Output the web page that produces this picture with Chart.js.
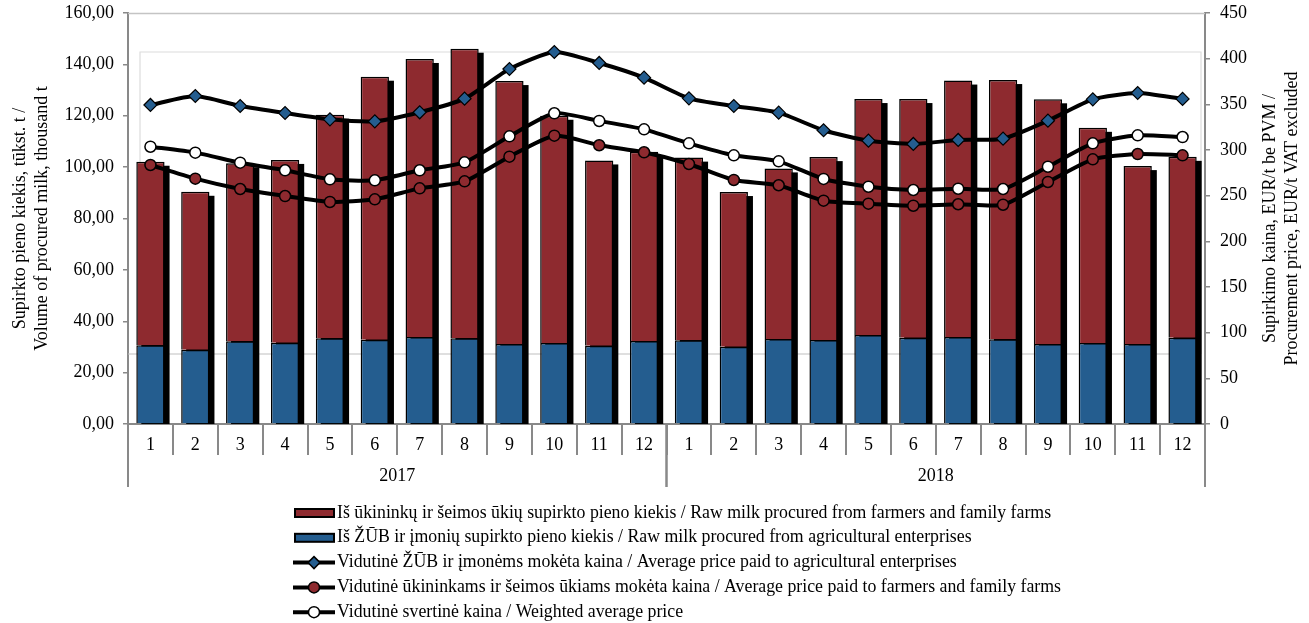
<!DOCTYPE html>
<html>
<head>
<meta charset="utf-8">
<script src="https://cdn.jsdelivr.net/npm/chart.js@4.4.1/dist/chart.umd.min.js"></script>
<style>
  html, body { margin: 0; padding: 0; background: #ffffff; }
  #wrap { position: relative; width: 1309px; height: 623px; }
</style>
</head>
<body>
<div id="wrap"><canvas id="c"></canvas></div>
<script>
// ---- data ----
const months = ['1','2','3','4','5','6','7','8','9','10','11','12','1','2','3','4','5','6','7','8','9','10','11','12'];
const years = ['2017','2018'];
const volEnterprises = [30.7,28.9,32.2,31.6,33.4,32.8,33.9,33.4,31.1,31.5,30.5,32.3, 32.6,30.1,33.1,32.7,34.6,33.6,33.9,33.0,31.1,31.5,31.1,33.6];
const volFarmers = [71.4,61.5,69.3,71.2,87.0,102.4,108.2,112.7,102.4,88.5,72.1,73.7, 71.1,60.2,66.4,71.2,91.9,92.9,99.8,100.9,95.3,83.8,69.3,70.4];
const priceEnterprises = [349.3,359.1,348.2,340.5,333.6,331.4,341.3,356.2,388.7,407.3,395.3,379.2, 356.6,348.2,340.9,321.6,310.2,306.6,311.0,312.4,332.1,355.5,362.4,355.9];
const priceFarmers = [283.6,268.6,257.3,249.6,243.1,246.0,258.0,265.7,292.7,315.7,305.2,297.5, 284.7,267.2,261.4,244.5,241.2,239.0,240.6,240.1,265.0,289.8,295.6,294.2];
const priceWeighted = [303.6,297.1,286.1,277.8,267.9,266.8,277.8,286.5,315.0,340.2,331.8,322.6, 307.3,294.2,287.6,268.3,259.8,256.2,257.6,257.3,281.7,307.3,316.1,314.2];

const labelFarmersVol = 'Iš ūkininkų ir šeimos ūkių supirkto pieno kiekis / Raw milk procured from farmers and family farms';
const labelEntVol = 'Iš ŽŪB ir įmonių supirkto pieno kiekis / Raw milk procured from agricultural enterprises';
const labelEntPrice = 'Vidutinė ŽŪB ir įmonėms mokėta kaina / Average price paid to agricultural enterprises';
const labelFarmPrice = 'Vidutinė ūkininkams ir šeimos ūkiams mokėta kaina / Average price paid to farmers and family farms';
const labelWeighted = 'Vidutinė svertinė kaina / Weighted average price';
const leftTitle = ['Supirkto pieno kiekis, tūkst. t /', 'Volume of procured milk, thousand t'];
const rightTitle = ['Supirkimo kaina, EUR/t be PVM /', 'Procurement price, EUR/t VAT excluded'];

const RED = '#8e2a2f';
const BLUE = '#245d8f';
const GRAY = '#898989';
const FONT = "'Liberation Serif', 'Times New Roman', serif";
const FS = 18;

const decor = {
  id: 'decor',
  beforeDatasetsDraw(chart) {
    const {ctx, chartArea: a} = chart;
    ctx.save();
    // top border of plot
    ctx.strokeStyle = '#c4c4c4';
    ctx.lineWidth = 1.5;
    ctx.beginPath(); ctx.moveTo(a.left, a.top + 0.5); ctx.lineTo(a.right, a.top + 0.5); ctx.stroke();
    // 3D back wall
    ctx.strokeStyle = '#dcdcdc';
    ctx.lineWidth = 1.2;
    const wl = a.left + 12, wr = a.right - 4, wt = a.top + 39, wb = a.bottom - 70;
    ctx.beginPath();
    ctx.moveTo(wl, wb); ctx.lineTo(wl, wt); ctx.lineTo(wr, wt); ctx.lineTo(wr, wb);
    ctx.stroke();
    ctx.strokeStyle = '#c0c0c0';
    ctx.beginPath(); ctx.moveTo(a.left, wb); ctx.lineTo(wr, wb); ctx.stroke();
    // bar shadows
    ctx.beginPath(); ctx.rect(a.left, a.top, a.right - a.left, a.bottom - a.top); ctx.clip();
    const mb = chart.getDatasetMeta(0), mr = chart.getDatasetMeta(1);
    ctx.fillStyle = '#000';
    mb.data.forEach((b, i) => {
      const r = mr.data[i];
      const top = Math.min(b.y, r.y);
      const w = b.width;
      ctx.fillRect(b.x - w / 2 + 5, top + 4, w, b.base - top);
    });
    ctx.restore();
  },
  afterDraw(chart) {
    const {ctx, chartArea: a, scales} = chart;
    const xs = scales.x;
    ctx.save();
    // year groups
    const half = (xs.getPixelForValue(1) - xs.getPixelForValue(0)) / 2;
    ctx.strokeStyle = GRAY;
    ctx.lineWidth = 2;
    ctx.fillStyle = '#000';
    ctx.font = FS + 'px ' + FONT;
    ctx.textAlign = 'center';
    ctx.textBaseline = 'middle';
    years.forEach((yr, g) => {
      const l = xs.getPixelForValue(g * 12) - half;
      const r = xs.getPixelForValue(g * 12 + 11) + half;
      ctx.beginPath();
      ctx.moveTo(l, a.bottom); ctx.lineTo(l, a.bottom + 63);
      ctx.moveTo(r, a.bottom); ctx.lineTo(r, a.bottom + 63);
      ctx.stroke();
      ctx.fillText(yr, (l + r) / 2, a.bottom + 52);
    });
    // right title (reads bottom-to-top)
    const cy = (a.top + a.bottom) / 2;
    [chart.width - 39, chart.width - 17].forEach((x, i) => {
      ctx.save();
      ctx.translate(x, cy);
      ctx.rotate(-Math.PI / 2);
      ctx.fillText(rightTitle[i], 0, 0);
      ctx.restore();
    });
    // legend
    const items = [
      {type: 'bar', color: RED, text: labelFarmersVol},
      {type: 'bar', color: BLUE, text: labelEntVol},
      {type: 'line', marker: 'diamond', color: BLUE, text: labelEntPrice},
      {type: 'line', marker: 'circle', color: RED, text: labelFarmPrice},
      {type: 'line', marker: 'circle', color: '#ffffff', text: labelWeighted}
    ];
    const lx = 294, ly0 = a.bottom + 89, step = 24.8;
    ctx.textAlign = 'left';
    ctx.font = '17.8px ' + FONT;
    items.forEach((it, i) => {
      const y = ly0 + i * step;
      if (it.type === 'bar') {
        ctx.fillStyle = '#000';
        ctx.fillRect(lx, y - 5, 41, 10);
        ctx.fillStyle = it.color;
        ctx.fillRect(lx + 2, y - 3, 37, 6);
      } else {
        ctx.strokeStyle = '#000';
        ctx.lineWidth = 4;
        ctx.beginPath(); ctx.moveTo(lx - 1, y); ctx.lineTo(lx + 41, y); ctx.stroke();
        ctx.fillStyle = it.color;
        ctx.lineWidth = 1.5;
        ctx.beginPath();
        const cx = lx + 20;
        if (it.marker === 'diamond') {
          ctx.moveTo(cx, y - 6); ctx.lineTo(cx + 6, y); ctx.lineTo(cx, y + 6); ctx.lineTo(cx - 6, y); ctx.closePath();
        } else {
          ctx.arc(cx, y, 5.5, 0, Math.PI * 2);
        }
        ctx.fill(); ctx.stroke();
      }
      ctx.fillStyle = '#000';
      ctx.fillText(it.text, lx + 43, y);
    });
    ctx.restore();
  }
};

function noPad(s) { s.paddingTop = 0; s.paddingBottom = 0; }

new Chart(document.getElementById('c'), {
  data: {
    labels: months,
    datasets: [
      {type: 'bar', label: labelEntVol, data: volEnterprises, yAxisID: 'y', order: 1,
       backgroundColor: BLUE, borderColor: '#000', borderWidth: 1.5,
       barPercentage: 0.63, categoryPercentage: 1},
      {type: 'bar', label: labelFarmersVol, data: volFarmers, yAxisID: 'y', order: 2,
       backgroundColor: RED, borderColor: '#000', borderWidth: 1.5,
       barPercentage: 0.63, categoryPercentage: 1},
      {type: 'line', label: labelEntPrice, data: priceEnterprises, yAxisID: 'y1', order: 0,
       borderColor: '#000', borderWidth: 4, tension: 0.2, pointStyle: 'rectRot', pointRadius: 6.5,
       pointBackgroundColor: BLUE, pointBorderColor: '#000', pointBorderWidth: 1.2},
      {type: 'line', label: labelFarmPrice, data: priceFarmers, yAxisID: 'y1', order: 0,
       borderColor: '#000', borderWidth: 4, tension: 0.2, pointStyle: 'circle', pointRadius: 5.5,
       pointBackgroundColor: RED, pointBorderColor: '#000', pointBorderWidth: 1.5},
      {type: 'line', label: labelWeighted, data: priceWeighted, yAxisID: 'y1', order: 0,
       borderColor: '#000', borderWidth: 4, tension: 0.2, pointStyle: 'circle', pointRadius: 5.5,
       pointBackgroundColor: '#ffffff', pointBorderColor: '#000', pointBorderWidth: 1.5}
    ]
  },
  options: {
    responsive: true,
    maintainAspectRatio: false,
    animation: false,
    layout: {padding: {top: 13, left: 0, right: 0, bottom: 0}},
    plugins: {legend: {display: false}, tooltip: {enabled: false}},
    scales: {
      x: {
        type: 'category', stacked: true,
        grid: {offset: true, drawOnChartArea: false, drawTicks: true, tickLength: 31, color: GRAY, lineWidth: 2},
        border: {display: true, color: GRAY, width: 2},
        ticks: {font: {family: FONT, size: FS}, color: '#000', padding: -21, maxRotation: 0, autoSkip: false},
        afterFit(s) { s.height = 199; s.paddingLeft = 0; s.paddingRight = 0; }
      },
      y: {
        position: 'left', stacked: true, min: 0, max: 160,
        ticks: {stepSize: 20, font: {family: FONT, size: FS}, color: '#000', padding: 9,
                callback: v => v.toFixed(2).replace('.', ',')},
        grid: {drawOnChartArea: false, tickLength: 5, color: GRAY, lineWidth: 1.5},
        border: {display: true, color: GRAY, width: 2},
        title: {display: true, text: leftTitle, font: {family: FONT, size: FS, lineHeight: 1.22}, color: '#000', padding: {top: 9, bottom: 0}},
        afterFit(s) { s.width = 128; noPad(s); }
      },
      y1: {
        position: 'right', min: 0, max: 450,
        ticks: {stepSize: 50, font: {family: FONT, size: FS}, color: '#000', padding: 10},
        grid: {drawOnChartArea: false, tickLength: 5, color: GRAY, lineWidth: 1.5},
        border: {display: true, color: GRAY, width: 2},
        afterFit(s) { s.width = 104; noPad(s); }
      }
    }
  },
  plugins: [decor]
});
</script>
</body>
</html>
